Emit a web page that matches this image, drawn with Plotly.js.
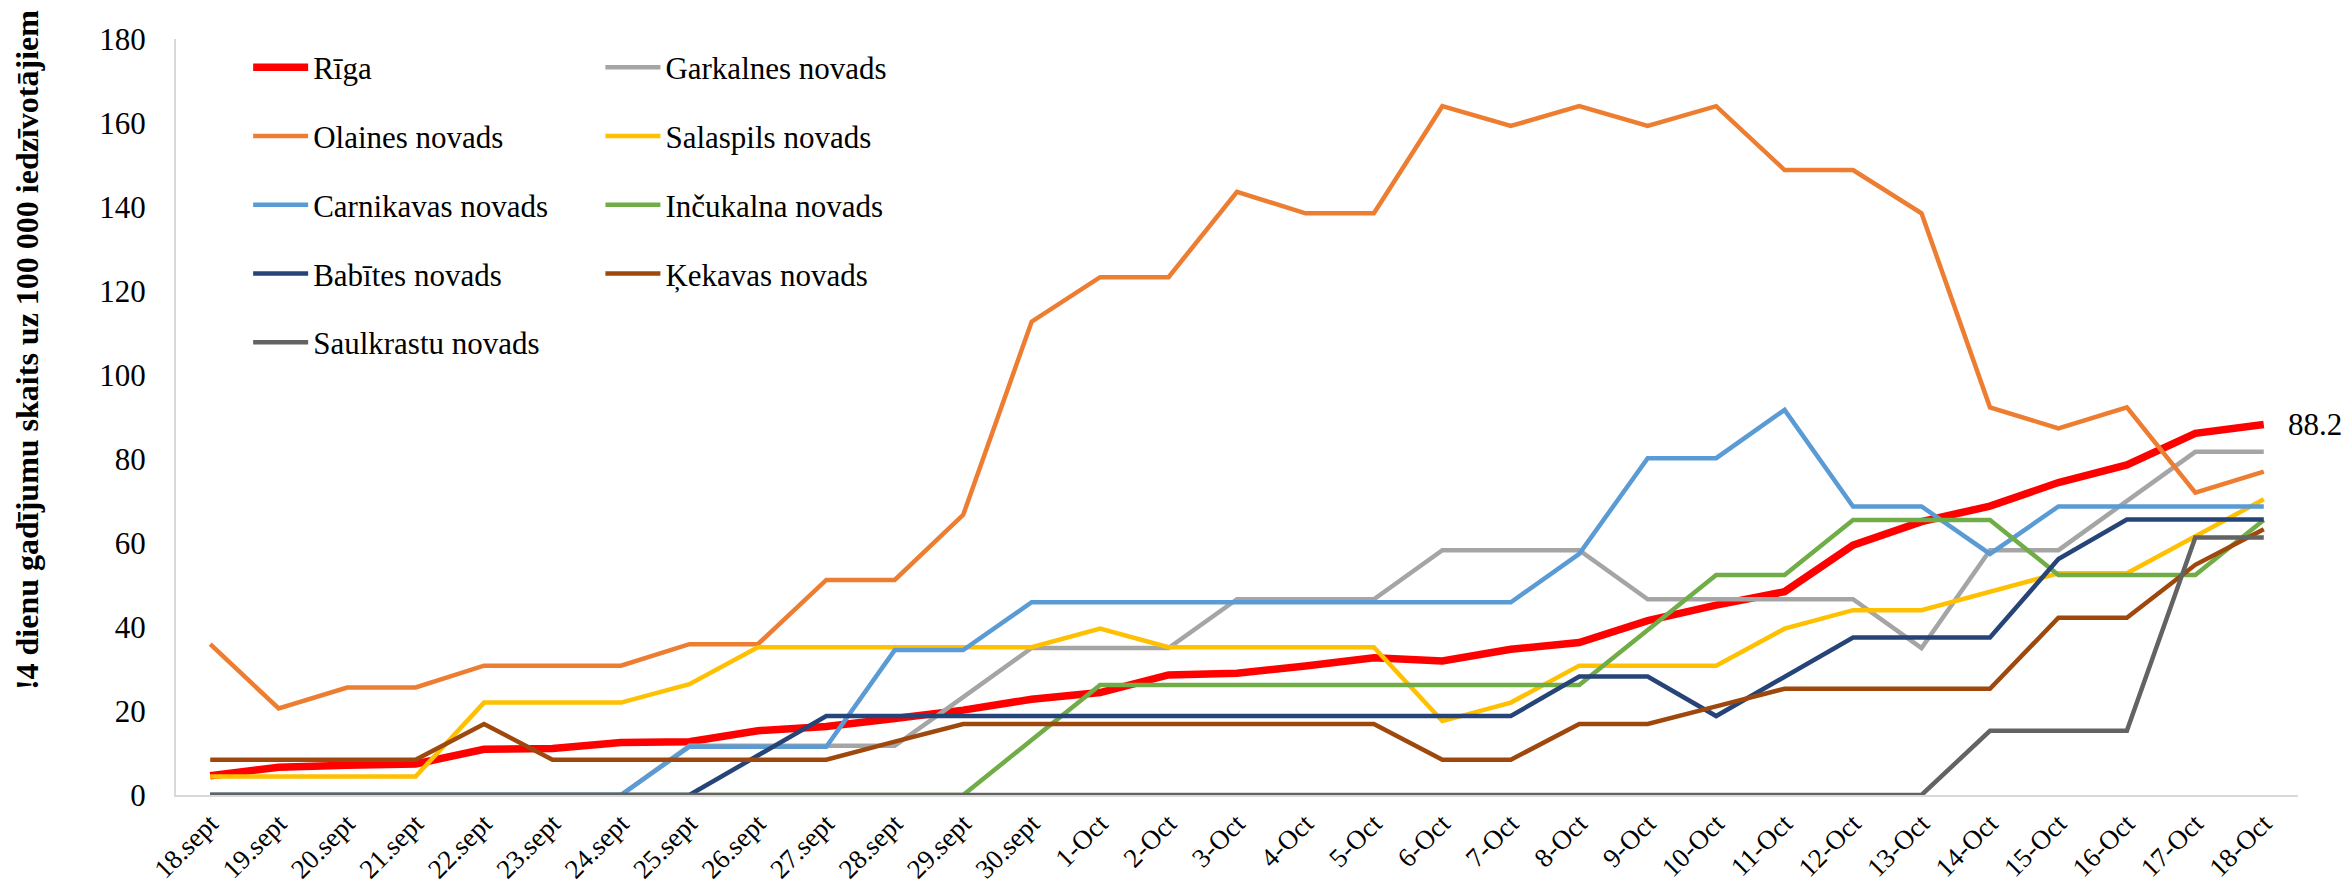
<!DOCTYPE html>
<html>
<head>
<meta charset="utf-8">
<script src="https://cdn.plot.ly/plotly-3.0.1.min.js"></script>
<style>
  html, body { margin: 0; padding: 0; background: #ffffff; }
  #chart { width: 2346px; height: 883px; }
</style>
</head>
<body>
<div id="chart"></div>
<script>
// ---- data ----
const categories = ["18.sept","19.sept","20.sept","21.sept","22.sept","23.sept","24.sept","25.sept","26.sept","27.sept","28.sept","29.sept","30.sept",
  "1-Oct","2-Oct","3-Oct","4-Oct","5-Oct","6-Oct","7-Oct","8-Oct","9-Oct","10-Oct","11-Oct","12-Oct","13-Oct","14-Oct","15-Oct","16-Oct","17-Oct","18-Oct"];

const seriesNames = ["Rīga","Garkalnes novads","Olaines novads","Salaspils novads","Carnikavas novads","Inčukalna novads","Babītes novads","Ķekavas novads","Saulkrastu novads"];

const riga       = [4.6,6.6,7.1,7.4,10.9,11.1,12.5,12.7,15.3,16.3,18.2,20.2,22.8,24.4,28.6,29.0,30.7,32.7,31.9,34.7,36.3,41.5,45.2,48.4,59.5,65.1,68.8,74.4,78.6,86.1,88.2];
const garkalnes  = [0,0,0,0,0,0,0,11.7,11.7,11.7,11.7,23.3,35.0,35.0,35.0,46.6,46.6,46.6,58.3,58.3,58.3,46.6,46.6,46.6,46.6,35.0,58.3,58.3,70.0,81.7,81.7];
const olaines    = [35.9,20.6,25.6,25.6,30.8,30.8,30.8,35.9,35.9,51.2,51.2,66.7,112.7,123.3,123.3,143.6,138.5,138.5,164.0,159.3,164.0,159.3,164.0,148.8,148.8,138.5,92.3,87.3,92.3,72.0,77.0];
const salaspils  = [4.4,4.4,4.4,4.4,22.0,22.0,22.0,26.4,35.2,35.2,35.2,35.2,35.2,39.6,35.2,35.2,35.2,35.2,17.6,22.0,30.8,30.8,30.8,39.6,44.0,44.0,48.4,52.8,52.8,61.6,70.4];
const carnikavas = [0,0,0,0,0,0,0,11.5,11.5,11.5,34.5,34.5,45.9,45.9,45.9,45.9,45.9,45.9,45.9,45.9,57.4,80.2,80.2,91.7,68.7,68.7,57.4,68.7,68.7,68.7,68.7];
const incukalna  = [0,0,0,0,0,0,0,0,0,0,0,0,13.1,26.2,26.2,26.2,26.2,26.2,26.2,26.2,26.2,39.3,52.4,52.4,65.5,65.5,65.5,52.4,52.4,52.4,65.5];
const babites    = [0,0,0,0,0,0,0,0,9.4,18.8,18.8,18.8,18.8,18.8,18.8,18.8,18.8,18.8,18.8,18.8,28.2,28.2,18.8,28.2,37.5,37.5,37.5,56.2,65.6,65.6,65.6];
const kekavas    = [8.4,8.4,8.4,8.4,16.9,8.4,8.4,8.4,8.4,8.4,12.7,16.9,16.9,16.9,16.9,16.9,16.9,16.9,8.4,8.4,16.9,16.9,21.1,25.3,25.3,25.3,25.3,42.2,42.2,54.8,63.3];
const saulkrastu = [0,0,0,0,0,0,0,0,0,0,0,0,0,0,0,0,0,0,0,0,0,0,0,0,0,0,15.3,15.3,15.3,61.3,61.3];

const yTicks = [0,20,40,60,80,100,120,140,160,180];
const yTitle = "!4 dienu gadījumu skaits uz 100 000 iedzīvotājiem";

// ---- styles ----
const seriesValues = [riga, garkalnes, olaines, salaspils, carnikavas, incukalna, babites, kekavas, saulkrastu];
const colors = ["#FF0000","#A5A5A5","#ED7D31","#FFC000","#5B9BD5","#70AD47","#264478","#9E480E","#636363"];
const widths = [7.5,4.5,4.5,4.5,4.5,4.5,4.5,4.5,4.5];
const legendIds = ["legend","legend2","legend","legend2","legend","legend2","legend","legend2","legend"];

const FONT = "Liberation Serif";

const traces = seriesNames.map((name, i) => ({
  type: "scatter",
  mode: "lines",
  name: name,
  x: categories,
  y: seriesValues[i],
  line: { color: colors[i], width: widths[i], shape: "linear" },
  legend: legendIds[i],
  legendgroup: "g" + i,
  hoverinfo: "x+y+name"
}));

const lastIdx = categories.length - 1;

const legendCommon = {
  font: { family: FONT, size: 31, color: "#000000" },
  bgcolor: "rgba(0,0,0,0)",
  borderwidth: 0,
  traceorder: "grouped",
  tracegroupgap: 25.5,
  itemwidth: 55,
  yanchor: "top",
  xanchor: "left",
  orientation: "v"
};

const layout = {
  width: 2346,
  height: 883,
  margin: { l: 176, r: 48, t: 39, b: 88, pad: 0 },
  paper_bgcolor: "#ffffff",
  plot_bgcolor: "#ffffff",
  showlegend: true,
  legend: Object.assign({}, legendCommon, { x: 0.034, y: 0.998 }),
  legend2: Object.assign({}, legendCommon, { x: 0.2, y: 0.998 }),
  xaxis: {
    type: "category",
    range: [-0.5, categories.length - 0.5],
    showgrid: false,
    zeroline: false,
    showline: true,
    linecolor: "#D9D9D9",
    linewidth: 2,
    ticks: "",
    tickangle: -45,
    ticklabelstandoff: 0,
    tickfont: { family: FONT, size: 27, color: "#000000" },
    fixedrange: true
  },
  yaxis: {
    range: [0, 180],
    tickvals: yTicks,
    ticktext: yTicks.map(String),
    showgrid: false,
    zeroline: false,
    showline: true,
    linecolor: "#D9D9D9",
    linewidth: 2,
    ticks: "",
    ticklabelstandoff: 22,
    tickfont: { family: FONT, size: 31, color: "#000000" },
    fixedrange: true
  },
  annotations: [
    {
      xref: "paper", yref: "paper",
      x: -0.0705, y: 0.589,
      xanchor: "center", yanchor: "middle",
      text: "<b>" + yTitle + "</b>",
      textangle: -90,
      showarrow: false,
      font: { family: FONT, size: 32, color: "#000000" }
    },
    {
      x: categories[lastIdx],
      y: riga[lastIdx],
      xref: "x", yref: "y",
      text: String(riga[lastIdx]),
      showarrow: false,
      xanchor: "left",
      yanchor: "middle",
      xshift: 22,
      font: { family: FONT, size: 31, color: "#000000" }
    }
  ]
};

Plotly.newPlot("chart", traces, layout, { displayModeBar: false, staticPlot: true });
</script>
</body>
</html>
